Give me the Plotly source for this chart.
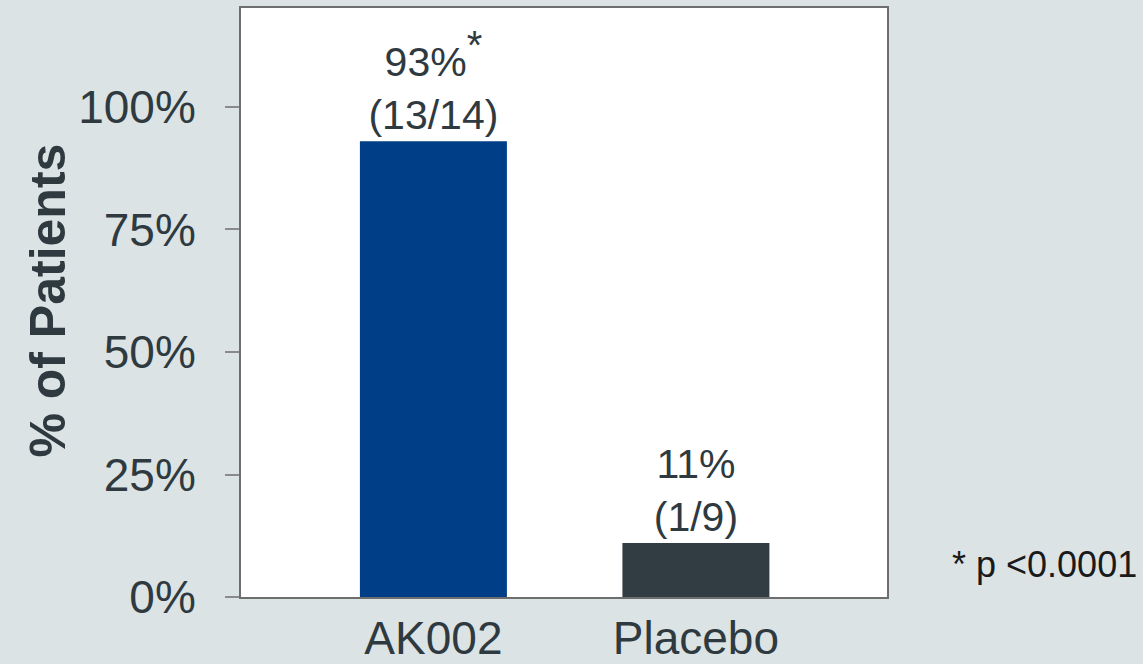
import plotly.graph_objects as go

categories = ["AK002", "Placebo"]
values = [93, 11]
counts = ["(13/14)", "(1/9)"]
marks = ["<sup><span style='font-size:40px'>*</span></sup>", ""]
bar_colors = ["#003f87", "#323c43"]
y_ticks = [0, 25, 50, 75, 100]
y_tick_labels = ["0%", "25%", "50%", "75%", "100%"]
y_title = "% of Patients"
footnote = "* p <0.0001"

FONT = "Liberation Sans, Arial, sans-serif"
TXT = "#2f3a40"

labels = [f"{v}%{m}<br>{c}" for v, m, c in zip(values, marks, counts)]

fig = go.Figure(go.Bar(
    x=categories, y=values, marker=dict(color=bar_colors, line=dict(width=0)),
    width=0.56, text=labels, textposition="outside", cliponaxis=False,
    constraintext="none", textfont=dict(family=FONT, size=41, color=TXT),
    hoverinfo="skip",
))

fig.update_layout(
    width=1143, height=664,
    margin=dict(l=241, r=256, t=8, b=67),
    paper_bgcolor="#dce3e5", plot_bgcolor="#ffffff",
    showlegend=False,
    font=dict(family=FONT, color=TXT),
)
fig.update_xaxes(
    range=[-0.733, 1.728], showline=True, linecolor="#6e6e6e", linewidth=2, mirror=True,
    ticks="", tickfont=dict(size=46, color=TXT, family=FONT), showgrid=False,
    automargin=False,
)
fig.update_yaxes(
    range=[0, 120.2], tickvals=y_ticks, ticktext=y_tick_labels,
    showline=True, linecolor="#6e6e6e", linewidth=2, mirror=True,
    ticks="outside", ticklen=14, tickcolor="#8a8a8a", tickwidth=2,
    ticklabelstandoff=20,
    tickfont=dict(size=46, color=TXT, family=FONT), showgrid=False, zeroline=False,
    automargin=False,
)
fig.add_annotation(
    text=f"<b>{y_title}</b>", xref="paper", yref="paper", x=-0.299, y=0.503,
    xanchor="center", yanchor="middle", textangle=-90, showarrow=False,
    font=dict(size=50, color=TXT, family=FONT),
)
fig.add_annotation(
    text=footnote, xref="paper", yref="paper", x=1.0, y=0.055, xshift=63,
    xanchor="left", yanchor="middle", showarrow=False,
    font=dict(size=36, color="#1a1a1a", family=FONT),
)
fig.write_html("out.html")
